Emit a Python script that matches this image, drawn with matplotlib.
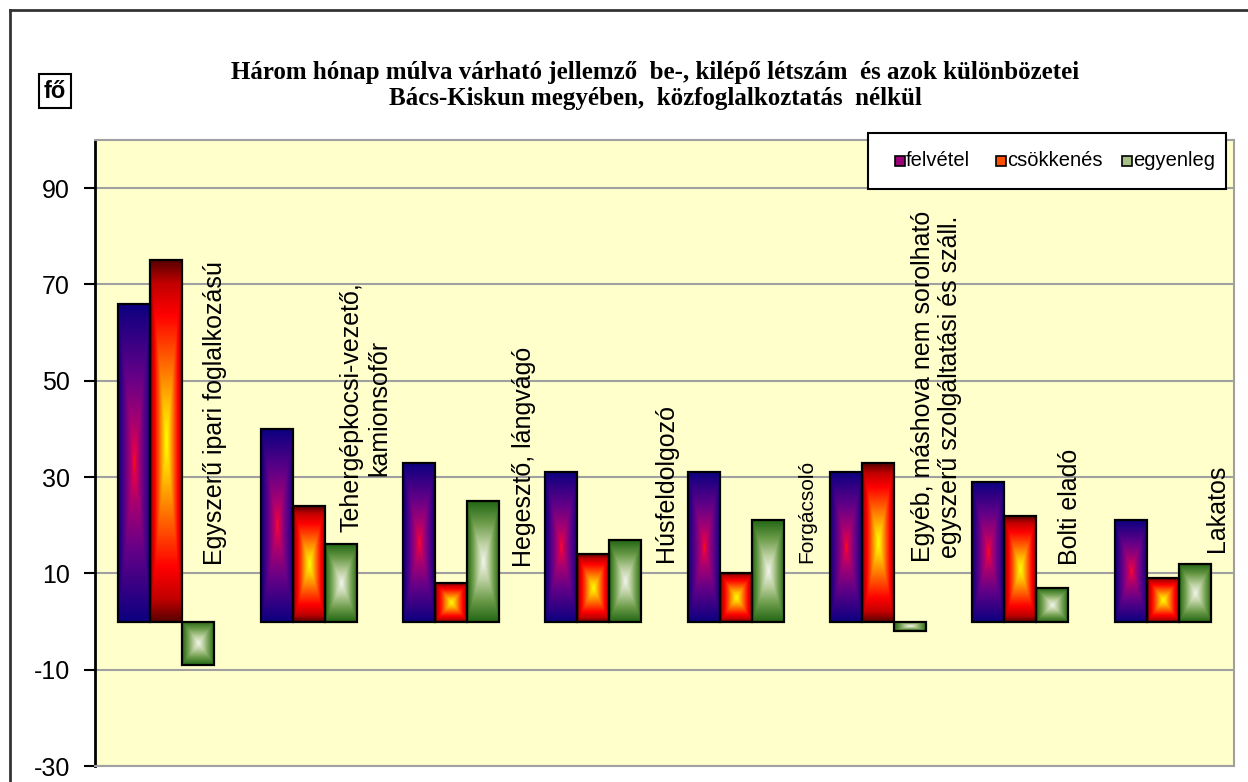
import numpy as np
import matplotlib
matplotlib.use("Agg")
import matplotlib.pyplot as plt
from matplotlib.colors import LinearSegmentedColormap
from matplotlib.patches import Rectangle
from matplotlib.lines import Line2D

# ---------------- data ----------------
categories = [
    "Egyszerű ipari foglalkozású",
    "Tehergépkocsi-vezető,\nkamionsofőr",
    "Hegesztő, lángvágó",
    "Húsfeldolgozó",
    "Forgácsoló",
    "Egyéb, máshova nem sorolható\negyszerű szolgáltatási és száll.",
    "Bolti eladó",
    "Lakatos",
]
series_names = ["felvétel", "csökkenés", "egyenleg"]
felvetel = [66, 40, 33, 31, 31, 31, 29, 21]
csokkenes = [75, 24, 8, 14, 10, 33, 22, 9]
egyenleg = [-9, 16, 25, 17, 21, -2, 7, 12]
yticks = [-30, -10, 10, 30, 50, 70, 90]

title_lines = ["Három hónap múlva várható jellemző  be-, kilépő létszám  és azok különbözetei",
               "Bács-Kiskun megyében,  közfoglalkoztatás  nélkül"]
unit_label = "fő"

# ---------------- layout / style ----------------
W, H = 1248, 782
label_dx = [0.34, 0.40, 0.51, 0.51, 0.50, 0.41, 0.35, 0.38]
label_y = [11.7, 18.5, 11.3, 12.3, 12.1, 12.3, 11.7, 14.4]
label_fs = [18, 18, 18, 18, 15, 18, 18, 18]

cmaps = [
    LinearSegmentedColormap.from_list("felv", [(0, "#ff1010"), (0.07, "#e0004a"), (0.25, "#a80070"),
                                               (0.55, "#640088"), (1.0, "#0c0080")]),
    LinearSegmentedColormap.from_list("csok", [(0, "#ffff00"), (0.2, "#ffc000"), (0.45, "#ff6000"),
                                               (0.7, "#ff0000"), (0.88, "#c00000"), (1.0, "#5a0000")]),
    LinearSegmentedColormap.from_list("egy", [(0, "#f2f5ec"), (0.3, "#bcd0a0"), (0.65, "#6a9a48"),
                                              (1.0, "#226614")]),
]
legend_face = ["#9a0078", "#ff5000", "#a8c088"]

plt.rcParams["font.family"] = ["Liberation Sans", "DejaVu Sans"]

fig = plt.figure(figsize=(W / 100, H / 100), dpi=100)
fig.patch.set_facecolor("white")

def fx(px):
    return px / W

def fy(py):
    return 1 - py / H

ax = fig.add_axes([fx(95), fy(766), fx(1234) - fx(95), fy(140) - fy(766)])
ax.set_facecolor("#ffffcc")

x = np.arange(len(categories))
bw = 0.225
data = [felvetel, csokkenes, egyenleg]

# gradient template (rectangular "from center")
nu, nv = 80, 240
u = np.linspace(-1, 1, nu)
v = np.linspace(-1, 1, nv)
U, V = np.meshgrid(u, v)
D = np.maximum(np.abs(U), np.abs(V))

for k, vals in enumerate(data):
    bars = ax.bar(x + (k - 1) * bw, vals, width=bw, facecolor="none",
                  edgecolor="black", linewidth=1.6, zorder=4)
    for b in bars:
        x0, y0 = b.get_x(), b.get_y()
        w, h = b.get_width(), b.get_height()
        y1 = y0 + h
        im = ax.imshow(D, cmap=cmaps[k], vmin=0, vmax=1, aspect="auto",
                       extent=[x0, x0 + w, min(y0, y1), max(y0, y1)],
                       origin="lower", interpolation="bilinear", zorder=3)
        clip = Rectangle((x0, y0), w, h, transform=ax.transData)
        im.set_clip_path(clip)

for i, cat in enumerate(categories):
    ax.text(x[i] + label_dx[i], label_y[i], cat, rotation=90, ha="center", va="bottom",
            multialignment="center", fontsize=label_fs[i], color="black", zorder=5)

ax.set_xlim(-0.5, len(categories) - 0.5)
ax.set_ylim(-30, 100)
ax.set_yticks(yticks)
ax.set_yticklabels([str(t) for t in yticks], fontsize=18)
ax.set_xticks([])
ax.tick_params(axis="y", direction="out", length=8, width=1.5, pad=10, colors="black")
ax.grid(axis="y", color="#a0a0a0", linewidth=1.5, zorder=0)
ax.set_axisbelow(True)
for s in ["top", "right", "bottom"]:
    ax.spines[s].set_color("#a0a0a0")
    ax.spines[s].set_linewidth(1.5)
ax.spines["left"].set_color("black")
ax.spines["left"].set_linewidth(2)

# title
for ln, ypx in zip(title_lines, [73, 98]):
    fig.text(fx(655), fy(ypx), ln, ha="center", va="center", fontsize=18,
             fontweight="bold", family=["Liberation Serif", "DejaVu Serif"])

# unit label box
fig.text(fx(55), fy(91), unit_label, ha="center", va="center", fontsize=17, fontweight="bold",
         bbox=dict(boxstyle="square,pad=0.22", facecolor="white", edgecolor="black", linewidth=1.5))

# legend (manual)
fig.patches.append(Rectangle((fx(868), fy(189)), fx(1226) - fx(868), fy(133) - fy(189),
                             transform=fig.transFigure, facecolor="white", edgecolor="black",
                             linewidth=1.5, zorder=10))
leg_marker_x = [895, 996, 1122]
for k, name in enumerate(series_names):
    mx = leg_marker_x[k]
    fig.patches.append(Rectangle((fx(mx), fy(166)), fx(10), 10 / H, transform=fig.transFigure,
                                 facecolor=legend_face[k], edgecolor="black", linewidth=1.2,
                                 zorder=11))
    fig.text(fx(mx + 11), fy(161), name, ha="left", va="center", fontsize=14.5, zorder=12)

# outer frame (partial, cropped chart border)
fig.add_artist(Line2D([fx(10), 1], [fy(10), fy(10)], transform=fig.transFigure,
                      color="#333333", linewidth=2))
fig.add_artist(Line2D([fx(10), fx(10)], [fy(10), 0], transform=fig.transFigure,
                      color="#333333", linewidth=2))

fig.savefig("out.png", dpi=100, facecolor="white")
